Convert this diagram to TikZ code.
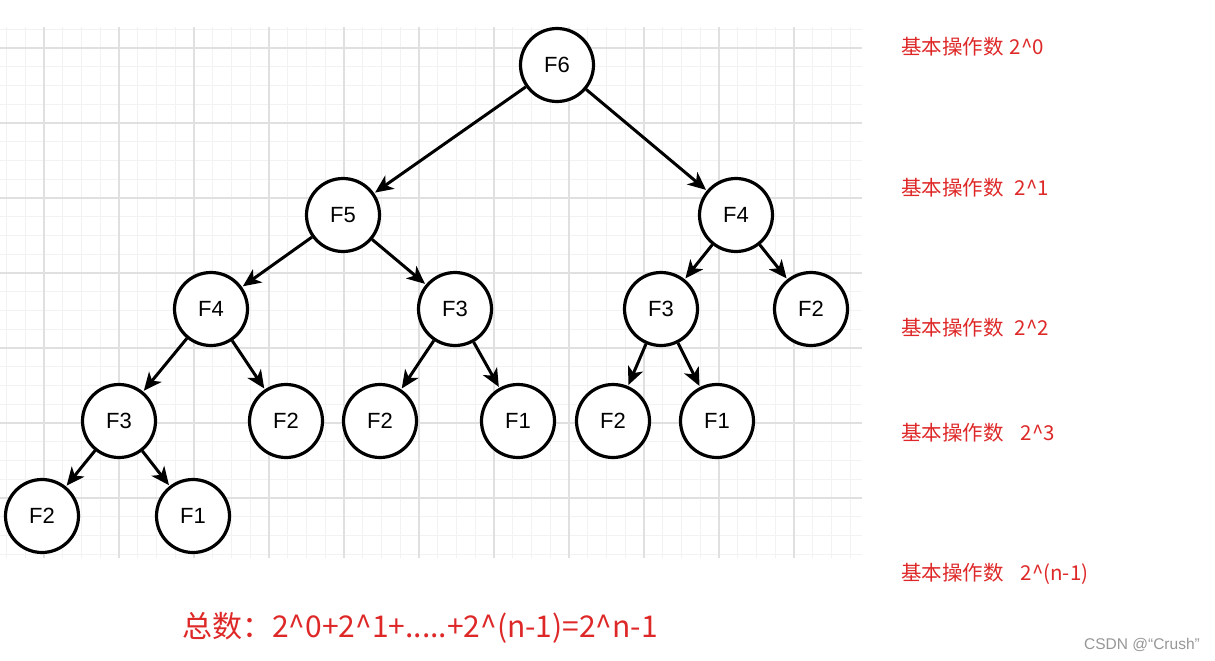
\documentclass[tikz,border=0pt]{standalone}
\usepackage{fontspec}
\setmainfont{Liberation Sans}
\newfontfamily\cjk{Noto Sans CJK SC}
\usetikzlibrary{arrows.meta}
\definecolor{notered}{RGB}{222,40,40}
\definecolor{gridmajor}{RGB}{224,224,224}
\definecolor{gridminor}{RGB}{242,242,242}
\definecolor{markgray}{RGB}{150,150,150}
\newcommand{\pwr}{\textasciicircum}

\begin{document}
\begin{tikzpicture}[x=1pt, y=-1pt,
    fib/.style={circle, draw, line width=3.2pt, minimum size=73pt,
      inner sep=0pt, fill=white, font=\fontsize{22}{26}\selectfont},
    call/.style={line width=3pt, shorten >=1pt,
      -{Stealth[length=18pt, width=16pt, inset=5pt]}},
    opcount/.style={notered, anchor=west, inner sep=0pt,
      font=\cjk\fontsize{20.5}{24}\selectfont}]
  \useasboundingbox (0,0) rectangle (1215,661);
  % Background grid (minor, then major lines).
  \foreach \i in {0,...,45}
    \draw[gridminor, line width=1pt] ({6.5+18.75*\i},27) -- ++(0,531);
  \foreach \j in {0,...,28}
    \draw[gridminor, line width=1pt] (0,{29.25+18.75*\j}) -- ++(862,0);
  \foreach \i in {0,...,10}
    \draw[gridmajor, line width=1.4pt] ({44+75*\i},27) -- ++(0,531);
  \foreach \j in {0,...,6}
    \draw[gridmajor, line width=1.4pt] (0,{48+75*\j}) -- ++(862,0);
  % The calls of fib(6).
  \node[fib] (f6) at (557,65) {F6};
  \node[fib] (f5) at (343,215) {F5};
  \node[fib] (f4r) at (736,215) {F4};
  \node[fib] (f4) at (211,309) {F4};
  \node[fib] (f3m) at (455,309) {F3};
  \node[fib] (f3r) at (661,309) {F3};
  \node[fib] (f2r) at (811,309) {F2};
  \node[fib] (f3) at (119,421) {F3};
  \node[fib] (f2) at (286,421) {F2};
  \node[fib] (f2m) at (380,421) {F2};
  \node[fib] (f1m) at (518,421) {F1};
  \node[fib] (f2rr) at (613,421) {F2};
  \node[fib] (f1r) at (717,421) {F1};
  \node[fib] (f2b) at (42,516) {F2};
  \node[fib] (f1b) at (193,516) {F1};
  \draw[call] (f6) -- (f5);
  \draw[call] (f6) -- (f4r);
  \draw[call] (f5) -- (f4);
  \draw[call] (f5) -- (f3m);
  \draw[call] (f4r) -- (f3r);
  \draw[call] (f4r) -- (f2r);
  \draw[call] (f4) -- (f3);
  \draw[call] (f4) -- (f2);
  \draw[call] (f3m) -- (f2m);
  \draw[call] (f3m) -- (f1m);
  \draw[call] (f3r) -- (f2rr);
  \draw[call] (f3r) -- (f1r);
  \draw[call] (f3) -- (f2b);
  \draw[call] (f3) -- (f1b);
  % Operation count per level (red).
  \node[opcount] (lv0) at (901,47) {基本操作数\hspace{6pt}2\pwr0};
  \node[opcount] (lv1) at (901,188) {基本操作数\hspace{11pt}2\pwr1};
  \node[opcount] (lv2) at (901,328) {基本操作数\hspace{11pt}2\pwr2};
  \node[opcount] (lv3) at (901,433) {基本操作数\hspace{17pt}2\pwr3};
  \node[opcount] (lvn) at (901,574) {基本操作数\hspace{17pt}2\pwr(n-1)};
  \node[opcount, font=\cjk\fontsize{30}{34}\selectfont] (total) at (182,628)
    {总数：2\pwr0+2\pwr1+.....+2\pwr(n-1)=2\pwr n-1};
  \node[markgray, anchor=east, inner sep=0pt, font=\fontsize{15.5}{18}\selectfont]
    (mark) at (1200,645) {CSDN @“Crush”};
\end{tikzpicture}
\end{document}
